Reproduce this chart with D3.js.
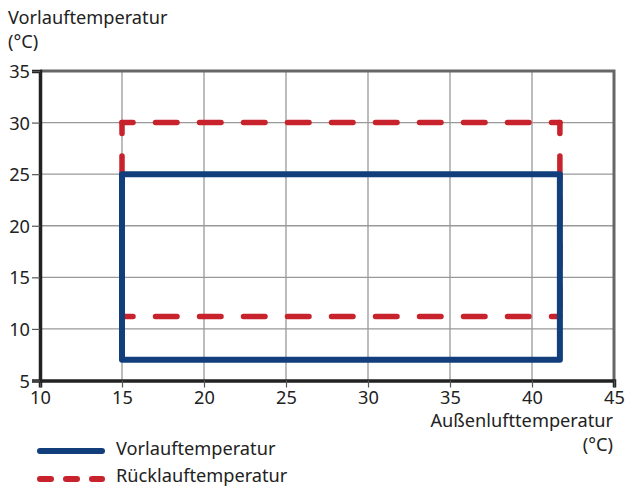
<!DOCTYPE html>
<html><head><meta charset="utf-8">
<script src="https://cdn.jsdelivr.net/npm/d3@7"></script>
<style>
body{margin:0;background:#fff;}
text{font-family:"Noto Sans",sans-serif;fill:#222;}
</style></head>
<body><svg id="c" width="629" height="488"></svg>
<script>
// Data
const xTicks = [10, 15, 20, 25, 30, 35, 40, 45];
const yTicks = [5, 10, 15, 20, 25, 30, 35];
const seriesNames = ["Vorlauftemperatur", "Rücklauftemperatur"];
const vorlaufX = [15, 41.7, 41.7, 15, 15];
const vorlaufY = [25, 25, 7, 7, 25];
const ruecklaufX = [15, 41.7, 41.7, 15, 15];
const ruecklaufY = [30, 30, 11.2, 11.2, 30];
const yTitle = ["Vorlauftemperatur", "(°C)"];
const xTitle = ["Außenlufttemperatur", "(°C)"];

const svg = d3.select("#c");
const L = 40, R = 614, T = 71, B = 380.5;
const x = d3.scaleLinear().domain([10, 45]).range([L, R]);
const y = d3.scaleLinear().domain([5, 35]).range([B, T]);
const blue = "#123f7c", red = "#c8222c";
const FS = "18.2px";

// grid
svg.append("g").selectAll("line").data(xTicks.slice(1, -1)).join("line")
  .attr("x1", d => x(d)).attr("x2", d => x(d)).attr("y1", T).attr("y2", B)
  .attr("stroke", "#999").attr("stroke-width", 1.3);
svg.append("g").selectAll("line").data(yTicks.slice(1, -1)).join("line")
  .attr("y1", d => y(d)).attr("y2", d => y(d)).attr("x1", L).attr("x2", R)
  .attr("stroke", "#999").attr("stroke-width", 1.3);

// top & right frame
svg.append("path").attr("d", `M${L},${T}H${R}V${B}`).attr("fill", "none")
  .attr("stroke", "#666").attr("stroke-width", 3);

// axes
const xAxis = d3.axisBottom(x).tickValues(xTicks).tickSize(7).tickPadding(3).tickFormat(d3.format("d"));
const yAxis = d3.axisLeft(y).tickValues(yTicks).tickSize(8).tickPadding(2).tickFormat(d3.format("d"));
const gx = svg.append("g").attr("transform", `translate(0,${B})`).call(xAxis);
const gy = svg.append("g").attr("transform", `translate(${L},0)`).call(yAxis);
[gx, gy].forEach(g => {
  g.select(".domain").attr("stroke", "#222").attr("stroke-width", 3.5);
  g.selectAll(".tick line").attr("stroke", "#555").attr("stroke-width", 1.2);
  g.selectAll(".tick text").style("font-family", '"Noto Sans",sans-serif')
    .style("font-size", FS).attr("fill", "#333");
});
gx.selectAll(".tick text").attr("dy", "0.76em");
gy.selectAll(".tick text").attr("dy", "0.36em");

// series
const pts = (xs, ys) => xs.map((v, i) => [x(v), y(ys[i])]);
const rp = pts(ruecklaufX, ruecklaufY);
// draw each edge starting from a corner so dashes are centred on corners
const segsDir = [
  [rp[0], rp[1]], [rp[1], rp[2]], [rp[4], rp[3]], [rp[3], rp[2]]
];
svg.append("g").selectAll("line").data(segsDir).join("line")
  .attr("x1", d => d[0][0]).attr("y1", d => d[0][1])
  .attr("x2", d => d[1][0]).attr("y2", d => d[1][1])
  .attr("stroke", red).attr("stroke-width", 5.5).attr("stroke-linecap", "round")
  .attr("stroke-dasharray", "21.5,22.5").attr("stroke-dashoffset", 10.5);

const line = d3.line();
svg.append("path").attr("d", line(pts(vorlaufX, vorlaufY)) + "Z")
  .attr("fill", "none").attr("stroke", blue).attr("stroke-width", 6).attr("stroke-linejoin", "round");

// titles
svg.append("text").attr("x", 8).attr("y", 24).style("font-size", FS).text(yTitle[0]);
svg.append("text").attr("x", 8).attr("y", 48).style("font-size", FS).text(yTitle[1]);
svg.append("text").attr("x", 613).attr("y", 427).attr("text-anchor", "end").style("font-size", FS).text(xTitle[0]);
svg.append("text").attr("x", 613).attr("y", 451).attr("text-anchor", "end").style("font-size", FS).text(xTitle[1]);

// legend
const lg = svg.append("g");
lg.append("line").attr("x1", 40).attr("x2", 102).attr("y1", 451).attr("y2", 451)
  .attr("stroke", blue).attr("stroke-width", 6).attr("stroke-linecap", "round");
lg.append("line").attr("x1", 40).attr("x2", 102).attr("y1", 479).attr("y2", 479)
  .attr("stroke", red).attr("stroke-width", 6).attr("stroke-linecap", "round")
  .attr("stroke-dasharray", "11,15");
lg.append("text").attr("x", 116).attr("y", 455).style("font-size", FS).text(seriesNames[0]);
lg.append("text").attr("x", 116).attr("y", 482).style("font-size", FS).text(seriesNames[1]);
</script></body></html>
